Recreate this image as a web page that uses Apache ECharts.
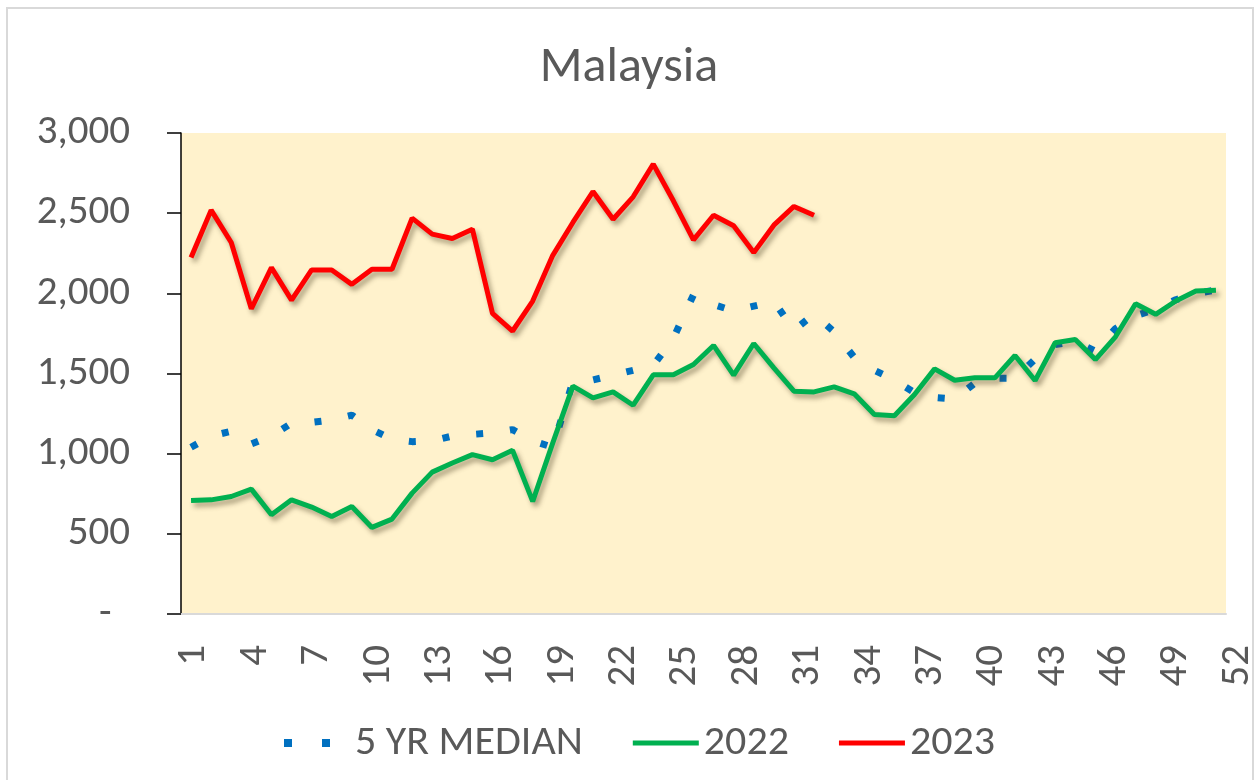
<!DOCTYPE html>
<html>
<head>
<meta charset="utf-8">
<script src="https://cdn.jsdelivr.net/npm/echarts@6/dist/echarts.min.js"></script>
<style>
html,body{margin:0;padding:0;background:#fff;}
#chart{width:1258px;height:780px;}
</style>
</head>
<body>
<div id="chart"></div>
<script>
var weeks = ['1','2','3','4','5','6','7','8','9','10','11','12','13','14','15','16','17','18','19','20','21','22','23','24','25','26','27','28','29','30','31','32','33','34','35','36','37','38','39','40','41','42','43','44','45','46','47','48','49','50','51','52'];
var median5yr = [1040,1110,1140,1060,1110,1190,1195,1210,1240,1150,1090,1075,1080,1110,1120,1130,1150,1080,1040,1450,1460,1490,1520,1550,1720,1990,1930,1890,1920,1950,1770,1870,1760,1600,1520,1460,1380,1350,1340,1440,1470,1470,1590,1680,1700,1640,1780,1860,1900,1960,2000,2020];
var y2022 = [708,712,733,779,619,712,667,608,671,540,592,754,885,942,994,962,1021,702,1067,1421,1348,1385,1302,1492,1492,1556,1675,1490,1687,1535,1390,1385,1417,1373,1244,1237,1369,1529,1458,1473,1473,1612,1456,1692,1712,1587,1729,1935,1869,1952,2015,2019];
var y2023 = [2223,2519,2317,1904,2160,1958,2146,2146,2056,2150,2150,2469,2369,2342,2400,1875,1765,1952,2237,2442,2635,2462,2602,2806,2577,2333,2487,2421,2254,2425,2542,2487];
var yTicks = [0,500,1000,1500,2000,2500,3000];
var seriesNames = ['5 YR MEDIAN','2022','2023'];

var FONT = 'Carlito, Lato, "Open Sans", sans-serif';
var TXT = '#595959';
var BLUE = '#0070C0', GREEN = '#00B050', RED = '#FF0000';
var chart = echarts.init(document.getElementById('chart'), null, {renderer:'canvas'});
var shadow = {shadowColor:'rgba(70,60,30,0.45)', shadowBlur:5, shadowOffsetX:3, shadowOffsetY:4};
var dotIcon = 'path://M0,0h8v8h-8z M38,0h8v8h-8z M65.99,7.99h0.01v0.01h-0.01z';
var barIcon = 'path://M0,0h0.01v0.01h-0.01z M0,1.5h66v5h-66z M65.99,7.99h0.01v0.01h-0.01z';
chart.setOption({
  animation:false,
  backgroundColor:'#ffffff',
  textStyle:{fontFamily:FONT},
  graphic:[{type:'rect', shape:{x:7,y:8,width:1246,height:800}, style:{fill:'none', stroke:'#d9d9d9', lineWidth:2}, silent:true, z:-10}],
  title:{text:'Malaysia', left:'center', top:38, textStyle:{fontFamily:FONT, fontSize:50, fontWeight:'normal', color:TXT}},
  legend:{
    top:717, left:279, itemWidth:66, itemHeight:8, itemGap:50,
    textStyle:{fontFamily:FONT, fontSize:42, color:TXT},
    data:[
      {name:seriesNames[0], icon:dotIcon, itemStyle:{color:BLUE}},
      {name:seriesNames[1], icon:barIcon, itemStyle:{color:GREEN}},
      {name:seriesNames[2], icon:barIcon, itemStyle:{color:RED}}
    ]
  },
  grid:[
    {left:181, right:32, top:133, bottom:166, show:true, backgroundColor:'#FFF2CC', borderWidth:0},
    {left:184, right:6, top:133, bottom:166, show:false}
  ],
  xAxis:[{
    gridIndex:0, type:'category', data:weeks, boundaryGap:true,
    axisLine:{show:true, lineStyle:{color:'#d9d9d9', width:2}},
    axisTick:{show:false},
    axisLabel:{show:false},
    splitLine:{show:false}
  },{
    gridIndex:1, type:'category', data:weeks, boundaryGap:true,
    axisLine:{show:false}, axisTick:{show:false},
    axisLabel:{interval:2, rotate:90, fontSize:41, color:TXT, margin:31, fontFamily:FONT},
    splitLine:{show:false}
  }],
  yAxis:[{
    gridIndex:0, type:'value', min:yTicks[0], max:yTicks[yTicks.length-1], interval:500,
    axisLine:{show:true, lineStyle:{color:'#000', width:1.5}},
    axisTick:{show:true, inside:false, length:14, lineStyle:{color:'#000', width:1.5}},
    axisLabel:{fontSize:41, color:TXT, margin:51, fontFamily:FONT,
      formatter:function(v){ return v===0 ? '-  ' : v.toLocaleString('en-US'); }},
    splitLine:{show:false}
  },{
    gridIndex:1, type:'value', min:yTicks[0], max:yTicks[yTicks.length-1], show:false
  }],
  series:[
    {name:seriesNames[0], type:'line', data:median5yr, symbol:'none', z:2,
     itemStyle:{color:BLUE},
     lineStyle:{color:BLUE, width:7, type:[7,27], cap:'butt'}},
    {name:seriesNames[1], type:'line', data:y2022, symbol:'none', z:3,
     itemStyle:{color:GREEN},
     lineStyle:Object.assign({color:GREEN, width:5}, shadow)},
    {name:seriesNames[2], type:'line', data:y2023, symbol:'none', z:4,
     itemStyle:{color:RED},
     lineStyle:Object.assign({color:RED, width:5}, shadow)}
  ]
});
</script>
</body>
</html>
